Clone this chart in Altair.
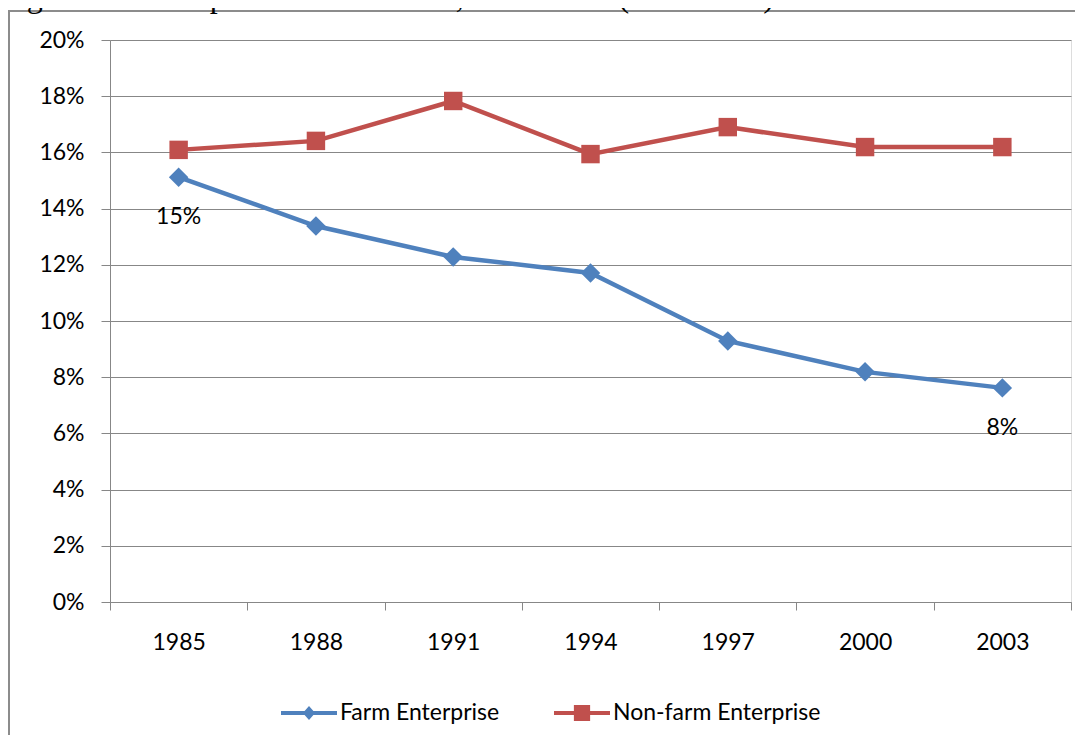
import altair as alt
import pandas as pd

years = ["1985", "1988", "1991", "1994", "1997", "2000", "2003"]
farm = [0.1512, 0.1338, 0.1228, 0.1171, 0.0929, 0.0819, 0.0762]
nonfarm = [0.1609, 0.1641, 0.1783, 0.1594, 0.1690, 0.1619, 0.1619]
series_names = ["Farm Enterprise", "Non-farm Enterprise"]
series_colors = ["#4F81BD", "#C0504D"]
y_ticks = [0, 0.02, 0.04, 0.06, 0.08, 0.10, 0.12, 0.14, 0.16, 0.18, 0.20]
labelled_years = ["1985", "2003"]
title_text = "Figure 12: Entrepreneurial Incomes, 1985-2003 (% of Total)"

rows = []
for y, v in zip(years, farm):
    rows.append({"year": y, "value": v, "series": series_names[0]})
for y, v in zip(years, nonfarm):
    rows.append({"year": y, "value": v, "series": series_names[1]})
df = pd.DataFrame(rows)
legend_df = pd.DataFrame({"series": series_names})

FONT = "Lato"
GRID = "#878787"

x_enc = alt.X(
    "year:O",
    sort=years,
    scale=alt.Scale(paddingInner=0, paddingOuter=0),
    axis=alt.Axis(
        title=None, labelAngle=0, tickBand="extent", grid=False,
        tickSize=8, labelPadding=21, domainColor=GRID, tickColor=GRID,
        labelFont=FONT, labelFontSize=23, labelColor="#000000",
    ),
)
y_enc = alt.Y(
    "value:Q",
    scale=alt.Scale(domain=[0, 0.2], nice=False),
    axis=alt.Axis(
        title=None, values=y_ticks, format=".0%", grid=True, gridColor=GRID,
        gridWidth=1, tickSize=9, labelPadding=17, domainColor=GRID,
        tickColor=GRID, labelFont=FONT, labelFontSize=23, labelColor="#000000",
    ),
)

fill_scale = alt.Scale(domain=series_names, range=series_colors)

lines = alt.Chart(df).mark_line(strokeWidth=4.5).encode(
    x=x_enc, y=y_enc,
    stroke=alt.Stroke("series:N", scale=fill_scale, legend=None),
    detail="series:N",
)

diamonds = alt.Chart(df).transform_filter(
    alt.datum.series == series_names[0]
).mark_point(filled=True, shape="diamond", size=380, opacity=1, strokeWidth=0).encode(
    x=x_enc, y=y_enc, fill=alt.Fill("series:N", scale=fill_scale, legend=None)
)
squares = alt.Chart(df).transform_filter(
    alt.datum.series == series_names[1]
).mark_point(filled=True, shape="square", size=340, opacity=1, strokeWidth=0).encode(
    x=x_enc, y=y_enc, fill=alt.Fill("series:N", scale=fill_scale, legend=None)
)

labels = alt.Chart(df).transform_filter(
    alt.datum.series == series_names[0]
).transform_filter(
    alt.FieldOneOfPredicate(field="year", oneOf=labelled_years)
).mark_text(
    dy=40, font=FONT, fontSize=23, color="#000000", baseline="middle", align="center"
).encode(
    x=x_enc, y=y_enc, text=alt.Text("value:Q", format=".0%")
)

frame_df = pd.DataFrame({"t": [title_text]})
frame_left = alt.Chart(frame_df).mark_rule(color="#8C8C8C", strokeWidth=2).encode(
    x=alt.value(-101), y=alt.value(-29), y2=alt.value(710)
)
frame_top = alt.Chart(frame_df).mark_rule(color="#8C8C8C", strokeWidth=2).encode(
    x=alt.value(-102), x2=alt.value(969), y=alt.value(-29)
)
title = alt.Chart(frame_df).mark_text(
    font="Liberation Serif", fontSize=32, align="left", baseline="alphabetic",
    color="#000000"
).encode(
    x=alt.value(-110), y=alt.value(-33), text="t:N"
)

# legend: line segment with the series marker, then the series name
farm_path = ("M-1,-0.075 L1,-0.075 L1,0.075 L-1,0.075 Z "
             "M0,-0.25 L0.22,0 L0,0.25 L-0.22,0 Z")
nonfarm_path = ("M-1,-0.075 L1,-0.075 L1,0.075 L-1,0.075 Z "
                "M-0.29,-0.29 L0.29,-0.29 L0.29,0.29 L-0.29,0.29 Z")
legend_shapes = [farm_path, nonfarm_path]
legend_x = alt.X("series:N", sort=series_names,
                 scale=alt.Scale(domain=series_names, range=[199, 472], padding=0),
                 axis=None)

legend_symbols = alt.Chart(legend_df).mark_point(
    filled=True, opacity=1, strokeWidth=0, size=3136
).encode(
    x=legend_x, y=alt.value(673),
    fill=alt.Fill("series:N", scale=fill_scale, legend=None),
    shape=alt.Shape("series:N", scale=alt.Scale(domain=series_names, range=legend_shapes), legend=None),
)
legend_text = alt.Chart(legend_df).mark_text(
    align="left", baseline="middle", dx=31, font=FONT, fontSize=23, color="#000000"
).encode(
    x=legend_x, y=alt.value(673), text="series:N"
)

plot = alt.layer(frame_left, frame_top, title, lines, diamonds, squares, labels)
legend_block = alt.layer(legend_symbols, legend_text)

chart = alt.layer(plot, legend_block).resolve_scale(x="independent").properties(
    width=961, height=562,
    autosize=alt.AutoSizeParams(type="none"),
    padding={"left": 102, "top": 32, "right": 4, "bottom": 133},
).configure_view(stroke=None).configure(background="white")

chart.save("out.html", embed_options={"renderer": "svg", "actions": False})
